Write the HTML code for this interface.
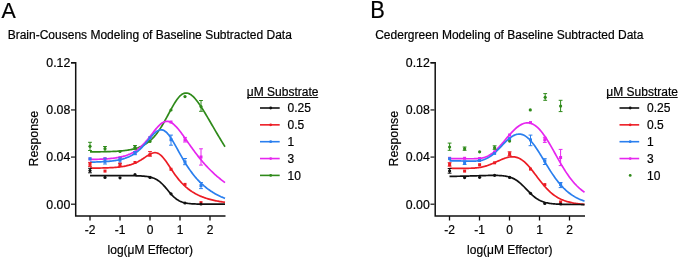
<!DOCTYPE html>
<html><head><meta charset="utf-8"><style>
html,body{margin:0;padding:0;background:#fff;}
svg{display:block;will-change:transform;}
text{font-family:"Liberation Sans",sans-serif;font-size:12px;fill:#000;stroke:#000;stroke-width:0.2px;}
</style></head><body>
<svg width="680" height="259" viewBox="0 0 680 259">
<rect width="680" height="259" fill="#fff"/>
<text transform="translate(1.6,17.9) scale(0.93,1)" style="font-size:23px">A</text>
<text x="7.7" y="39.0">Brain-Cousens Modeling of Baseline Subtracted Data</text>
<text transform="translate(370.2,17.9) scale(0.95,1)" style="font-size:23px">B</text>
<text x="375.2" y="39.0">Cedergreen Modeling of Baseline Subtracted Data</text>
<g>
<path d="M71,62.8 H75.7 V216 H225.5" stroke="#111" stroke-width="1.5" fill="none"/>
<path d="M71,62.80 H75" stroke="#111" stroke-width="1.2"/>
<text x="70.3" y="67.20" text-anchor="end" style="font-size:12.3px">0.12</text>
<path d="M71,109.94 H75" stroke="#111" stroke-width="1.2"/>
<text x="70.3" y="114.34" text-anchor="end" style="font-size:12.3px">0.08</text>
<path d="M71,157.07 H75" stroke="#111" stroke-width="1.2"/>
<text x="70.3" y="161.47" text-anchor="end" style="font-size:12.3px">0.04</text>
<path d="M71,204.20 H75" stroke="#111" stroke-width="1.2"/>
<text x="70.3" y="208.60" text-anchor="end" style="font-size:12.3px">0.00</text>
<path d="M90.00,216 V220.5" stroke="#111" stroke-width="1.3"/>
<text x="90.00" y="233.5" text-anchor="middle">-2</text>
<path d="M120.00,216 V220.5" stroke="#111" stroke-width="1.3"/>
<text x="120.00" y="233.5" text-anchor="middle">-1</text>
<path d="M150.00,216 V220.5" stroke="#111" stroke-width="1.3"/>
<text x="150.00" y="233.5" text-anchor="middle">0</text>
<path d="M180.00,216 V220.5" stroke="#111" stroke-width="1.3"/>
<text x="180.00" y="233.5" text-anchor="middle">1</text>
<path d="M210.00,216 V220.5" stroke="#111" stroke-width="1.3"/>
<text x="210.00" y="233.5" text-anchor="middle">2</text>
<text x="150.3" y="253.8" text-anchor="middle">log(μM Effector)</text>
<text transform="translate(38.1,138.7) rotate(-90)" text-anchor="middle" style="font-size:12.35px">Response</text>
<path d="M90.00,151.88 L91.00,151.87 L92.00,151.87 L93.00,151.86 L94.00,151.85 L95.00,151.84 L96.00,151.83 L97.00,151.82 L98.00,151.81 L99.00,151.80 L100.00,151.78 L101.00,151.77 L102.00,151.75 L103.00,151.74 L104.00,151.72 L105.00,151.69 L106.00,151.67 L107.00,151.65 L108.00,151.62 L109.00,151.59 L110.00,151.56 L111.00,151.52 L112.00,151.48 L113.00,151.44 L114.00,151.39 L115.00,151.34 L116.00,151.29 L117.00,151.23 L118.00,151.16 L119.00,151.09 L120.00,151.02 L121.00,150.93 L122.00,150.84 L123.00,150.74 L124.00,150.64 L125.00,150.52 L126.00,150.39 L127.00,150.25 L128.00,150.10 L129.00,149.94 L130.00,149.76 L131.00,149.57 L132.00,149.36 L133.00,149.13 L134.00,148.89 L135.00,148.62 L136.00,148.33 L137.00,148.02 L138.00,147.68 L139.00,147.31 L140.00,146.91 L141.00,146.48 L142.00,146.02 L143.00,145.52 L144.00,144.98 L145.00,144.39 L146.00,143.76 L147.00,143.09 L148.00,142.37 L149.00,141.59 L150.00,140.75 L151.00,139.86 L152.00,138.91 L153.00,137.90 L154.00,136.82 L155.00,135.67 L156.00,134.45 L157.00,133.17 L158.00,131.81 L159.00,130.39 L160.00,128.90 L161.00,127.34 L162.00,125.72 L163.00,124.04 L164.00,122.31 L165.00,120.53 L166.00,118.71 L167.00,116.86 L168.00,114.99 L169.00,113.12 L170.00,111.25 L171.00,109.40 L172.00,107.58 L173.00,105.81 L174.00,104.10 L175.00,102.47 L176.00,100.93 L177.00,99.50 L178.00,98.19 L179.00,97.01 L180.00,95.97 L181.00,95.07 L182.00,94.33 L183.00,93.75 L184.00,93.34 L185.00,93.08 L186.00,92.99 L187.00,93.05 L188.00,93.27 L189.00,93.63 L190.00,94.13 L191.00,94.77 L192.00,95.54 L193.00,96.42 L194.00,97.41 L195.00,98.50 L196.00,99.67 L197.00,100.94 L198.00,102.27 L199.00,103.67 L200.00,105.12 L201.00,106.63 L202.00,108.18 L203.00,109.77 L204.00,111.39 L205.00,113.04 L206.00,114.71 L207.00,116.39 L208.00,118.09 L209.00,119.80 L210.00,121.52 L211.00,123.23 L212.00,124.96 L213.00,126.67 L214.00,128.39 L215.00,130.10 L216.00,131.81 L217.00,133.51 L218.00,135.20 L219.00,136.87 L220.00,138.54 L221.00,140.20 L222.00,141.85 L223.00,143.48 L224.00,145.10 L225.00,146.70" stroke="#2f8a1a" stroke-width="1.7" fill="none"/>
<path d="M90.00,159.46 L91.00,159.44 L92.00,159.42 L93.00,159.40 L94.00,159.38 L95.00,159.35 L96.00,159.33 L97.00,159.30 L98.00,159.26 L99.00,159.23 L100.00,159.19 L101.00,159.15 L102.00,159.10 L103.00,159.05 L104.00,159.00 L105.00,158.94 L106.00,158.88 L107.00,158.81 L108.00,158.73 L109.00,158.65 L110.00,158.56 L111.00,158.47 L112.00,158.36 L113.00,158.25 L114.00,158.13 L115.00,157.99 L116.00,157.85 L117.00,157.69 L118.00,157.52 L119.00,157.34 L120.00,157.14 L121.00,156.92 L122.00,156.68 L123.00,156.43 L124.00,156.15 L125.00,155.86 L126.00,155.54 L127.00,155.19 L128.00,154.82 L129.00,154.41 L130.00,153.98 L131.00,153.51 L132.00,153.01 L133.00,152.47 L134.00,151.90 L135.00,151.28 L136.00,150.62 L137.00,149.92 L138.00,149.17 L139.00,148.37 L140.00,147.52 L141.00,146.63 L142.00,145.68 L143.00,144.69 L144.00,143.65 L145.00,142.56 L146.00,141.42 L147.00,140.25 L148.00,139.04 L149.00,137.80 L150.00,136.53 L151.00,135.24 L152.00,133.95 L153.00,132.65 L154.00,131.37 L155.00,130.11 L156.00,128.89 L157.00,127.72 L158.00,126.61 L159.00,125.58 L160.00,124.63 L161.00,123.79 L162.00,123.06 L163.00,122.45 L164.00,121.96 L165.00,121.62 L166.00,121.41 L167.00,121.34 L168.00,121.41 L169.00,121.63 L170.00,121.97 L171.00,122.45 L172.00,123.06 L173.00,123.77 L174.00,124.60 L175.00,125.53 L176.00,126.54 L177.00,127.63 L178.00,128.79 L179.00,130.02 L180.00,131.29 L181.00,132.61 L182.00,133.96 L183.00,135.34 L184.00,136.75 L185.00,138.16 L186.00,139.59 L187.00,141.02 L188.00,142.45 L189.00,143.87 L190.00,145.29 L191.00,146.70 L192.00,148.10 L193.00,149.48 L194.00,150.84 L195.00,152.19 L196.00,153.52 L197.00,154.82 L198.00,156.11 L199.00,157.37 L200.00,158.61 L201.00,159.83 L202.00,161.02 L203.00,162.19 L204.00,163.34 L205.00,164.47 L206.00,165.57 L207.00,166.65 L208.00,167.71 L209.00,168.75 L210.00,169.76 L211.00,170.75 L212.00,171.72 L213.00,172.68 L214.00,173.61 L215.00,174.52 L216.00,175.41 L217.00,176.28 L218.00,177.13 L219.00,177.96 L220.00,178.78 L221.00,179.58 L222.00,180.36 L223.00,181.12 L224.00,181.86 L225.00,182.59" stroke="#e626ef" stroke-width="1.7" fill="none"/>
<path d="M90.00,162.15 L91.00,162.13 L92.00,162.11 L93.00,162.09 L94.00,162.06 L95.00,162.03 L96.00,162.01 L97.00,161.97 L98.00,161.94 L99.00,161.90 L100.00,161.86 L101.00,161.81 L102.00,161.77 L103.00,161.71 L104.00,161.65 L105.00,161.59 L106.00,161.52 L107.00,161.45 L108.00,161.37 L109.00,161.28 L110.00,161.18 L111.00,161.08 L112.00,160.97 L113.00,160.84 L114.00,160.71 L115.00,160.57 L116.00,160.41 L117.00,160.24 L118.00,160.05 L119.00,159.85 L120.00,159.64 L121.00,159.40 L122.00,159.14 L123.00,158.87 L124.00,158.57 L125.00,158.25 L126.00,157.90 L127.00,157.52 L128.00,157.12 L129.00,156.68 L130.00,156.21 L131.00,155.70 L132.00,155.16 L133.00,154.58 L134.00,153.95 L135.00,153.29 L136.00,152.57 L137.00,151.82 L138.00,151.01 L139.00,150.16 L140.00,149.26 L141.00,148.31 L142.00,147.32 L143.00,146.28 L144.00,145.20 L145.00,144.08 L146.00,142.93 L147.00,141.76 L148.00,140.57 L149.00,139.37 L150.00,138.18 L151.00,137.01 L152.00,135.87 L153.00,134.78 L154.00,133.75 L155.00,132.81 L156.00,131.97 L157.00,131.24 L158.00,130.65 L159.00,130.21 L160.00,129.94 L161.00,129.83 L162.00,129.90 L163.00,130.16 L164.00,130.59 L165.00,131.21 L166.00,132.00 L167.00,132.96 L168.00,134.06 L169.00,135.31 L170.00,136.68 L171.00,138.16 L172.00,139.73 L173.00,141.38 L174.00,143.08 L175.00,144.84 L176.00,146.62 L177.00,148.43 L178.00,150.24 L179.00,152.06 L180.00,153.86 L181.00,155.64 L182.00,157.40 L183.00,159.13 L184.00,160.82 L185.00,162.48 L186.00,164.10 L187.00,165.67 L188.00,167.20 L189.00,168.69 L190.00,170.13 L191.00,171.53 L192.00,172.88 L193.00,174.18 L194.00,175.45 L195.00,176.67 L196.00,177.84 L197.00,178.98 L198.00,180.07 L199.00,181.13 L200.00,182.15 L201.00,183.13 L202.00,184.08 L203.00,184.99 L204.00,185.87 L205.00,186.71 L206.00,187.53 L207.00,188.31 L208.00,189.07 L209.00,189.80 L210.00,190.50 L211.00,191.18 L212.00,191.83 L213.00,192.45 L214.00,193.06 L215.00,193.64 L216.00,194.20 L217.00,194.74 L218.00,195.26 L219.00,195.76 L220.00,196.24 L221.00,196.71 L222.00,197.15 L223.00,197.58 L224.00,198.00 L225.00,198.40" stroke="#2a7fee" stroke-width="1.7" fill="none"/>
<path d="M90.00,168.15 L91.00,168.14 L92.00,168.14 L93.00,168.13 L94.00,168.12 L95.00,168.11 L96.00,168.09 L97.00,168.08 L98.00,168.07 L99.00,168.05 L100.00,168.03 L101.00,168.01 L102.00,167.99 L103.00,167.97 L104.00,167.94 L105.00,167.91 L106.00,167.88 L107.00,167.85 L108.00,167.81 L109.00,167.77 L110.00,167.72 L111.00,167.67 L112.00,167.61 L113.00,167.55 L114.00,167.48 L115.00,167.41 L116.00,167.32 L117.00,167.23 L118.00,167.13 L119.00,167.03 L120.00,166.91 L121.00,166.78 L122.00,166.63 L123.00,166.48 L124.00,166.31 L125.00,166.12 L126.00,165.92 L127.00,165.69 L128.00,165.45 L129.00,165.19 L130.00,164.90 L131.00,164.60 L132.00,164.26 L133.00,163.90 L134.00,163.51 L135.00,163.09 L136.00,162.64 L137.00,162.16 L138.00,161.65 L139.00,161.11 L140.00,160.53 L141.00,159.94 L142.00,159.31 L143.00,158.67 L144.00,158.01 L145.00,157.34 L146.00,156.66 L147.00,156.00 L148.00,155.36 L149.00,154.75 L150.00,154.19 L151.00,153.70 L152.00,153.29 L153.00,152.97 L154.00,152.77 L155.00,152.69 L156.00,152.76 L157.00,152.97 L158.00,153.34 L159.00,153.87 L160.00,154.56 L161.00,155.40 L162.00,156.37 L163.00,157.47 L164.00,158.68 L165.00,159.99 L166.00,161.37 L167.00,162.81 L168.00,164.29 L169.00,165.80 L170.00,167.31 L171.00,168.83 L172.00,170.32 L173.00,171.80 L174.00,173.24 L175.00,174.65 L176.00,176.02 L177.00,177.34 L178.00,178.61 L179.00,179.84 L180.00,181.01 L181.00,182.14 L182.00,183.22 L183.00,184.25 L184.00,185.24 L185.00,186.17 L186.00,187.07 L187.00,187.92 L188.00,188.74 L189.00,189.51 L190.00,190.25 L191.00,190.95 L192.00,191.62 L193.00,192.25 L194.00,192.86 L195.00,193.43 L196.00,193.98 L197.00,194.50 L198.00,195.00 L199.00,195.47 L200.00,195.92 L201.00,196.35 L202.00,196.76 L203.00,197.15 L204.00,197.52 L205.00,197.87 L206.00,198.21 L207.00,198.53 L208.00,198.83 L209.00,199.12 L210.00,199.40 L211.00,199.66 L212.00,199.91 L213.00,200.15 L214.00,200.38 L215.00,200.60 L216.00,200.81 L217.00,201.00 L218.00,201.19 L219.00,201.37 L220.00,201.54 L221.00,201.70 L222.00,201.86 L223.00,202.01 L224.00,202.15 L225.00,202.28" stroke="#ec1c24" stroke-width="1.7" fill="none"/>
<path d="M90.00,175.63 L91.00,175.63 L92.00,175.63 L93.00,175.63 L94.00,175.63 L95.00,175.63 L96.00,175.63 L97.00,175.63 L98.00,175.63 L99.00,175.63 L100.00,175.63 L101.00,175.63 L102.00,175.63 L103.00,175.63 L104.00,175.63 L105.00,175.63 L106.00,175.63 L107.00,175.63 L108.00,175.63 L109.00,175.63 L110.00,175.63 L111.00,175.63 L112.00,175.63 L113.00,175.63 L114.00,175.63 L115.00,175.64 L116.00,175.64 L117.00,175.64 L118.00,175.64 L119.00,175.64 L120.00,175.64 L121.00,175.64 L122.00,175.65 L123.00,175.65 L124.00,175.65 L125.00,175.65 L126.00,175.66 L127.00,175.66 L128.00,175.67 L129.00,175.68 L130.00,175.69 L131.00,175.70 L132.00,175.71 L133.00,175.72 L134.00,175.74 L135.00,175.76 L136.00,175.78 L137.00,175.81 L138.00,175.84 L139.00,175.87 L140.00,175.92 L141.00,175.97 L142.00,176.03 L143.00,176.10 L144.00,176.18 L145.00,176.28 L146.00,176.40 L147.00,176.53 L148.00,176.69 L149.00,176.87 L150.00,177.08 L151.00,177.33 L152.00,177.62 L153.00,177.95 L154.00,178.33 L155.00,178.76 L156.00,179.26 L157.00,179.82 L158.00,180.46 L159.00,181.16 L160.00,181.95 L161.00,182.81 L162.00,183.74 L163.00,184.75 L164.00,185.82 L165.00,186.94 L166.00,188.11 L167.00,189.30 L168.00,190.50 L169.00,191.70 L170.00,192.87 L171.00,194.00 L172.00,195.08 L173.00,196.10 L174.00,197.05 L175.00,197.93 L176.00,198.72 L177.00,199.44 L178.00,200.09 L179.00,200.66 L180.00,201.16 L181.00,201.60 L182.00,201.99 L183.00,202.32 L184.00,202.61 L185.00,202.85 L186.00,203.07 L187.00,203.24 L188.00,203.40 L189.00,203.53 L190.00,203.64 L191.00,203.73 L192.00,203.80 L193.00,203.87 L194.00,203.92 L195.00,203.97 L196.00,204.00 L197.00,204.03 L198.00,204.06 L199.00,204.08 L200.00,204.09 L201.00,204.10 L202.00,204.11 L203.00,204.12 L204.00,204.12 L205.00,204.13 L206.00,204.13 L207.00,204.13 L208.00,204.13 L209.00,204.13 L210.00,204.13 L211.00,204.12 L212.00,204.12 L213.00,204.12 L214.00,204.11 L215.00,204.11 L216.00,204.11 L217.00,204.10 L218.00,204.10 L219.00,204.10 L220.00,204.09 L221.00,204.09 L222.00,204.08 L223.00,204.08 L224.00,204.08 L225.00,204.07" stroke="#111111" stroke-width="1.7" fill="none"/>
<path d="M90.00,142.30 V150.50 M88.10,142.30 h3.8 M88.10,150.50 h3.8" stroke="#2f8a1a" stroke-width="1" fill="none"/>
<circle cx="90.00" cy="146.30" r="1.6" fill="#2f8a1a"/>
<path d="M105.00,146.50 V151.60 M103.10,146.50 h3.8 M103.10,151.60 h3.8" stroke="#2f8a1a" stroke-width="1" fill="none"/>
<circle cx="105.00" cy="148.70" r="1.6" fill="#2f8a1a"/>
<circle cx="120.00" cy="151.50" r="1.6" fill="#2f8a1a"/>
<path d="M135.00,145.50 V149.30 M133.10,145.50 h3.8 M133.10,149.30 h3.8" stroke="#2f8a1a" stroke-width="1" fill="none"/>
<circle cx="135.00" cy="147.30" r="1.6" fill="#2f8a1a"/>
<circle cx="150.00" cy="141.50" r="1.6" fill="#2f8a1a"/>
<circle cx="171.00" cy="110.00" r="1.6" fill="#2f8a1a"/>
<circle cx="185.00" cy="96.60" r="1.6" fill="#2f8a1a"/>
<path d="M201.00,100.50 V111.30 M199.10,100.50 h3.8 M199.10,111.30 h3.8" stroke="#2f8a1a" stroke-width="1" fill="none"/>
<circle cx="201.00" cy="106.60" r="1.6" fill="#2f8a1a"/>
<rect x="88.50" y="157.40" width="3" height="3" fill="#e626ef"/>
<rect x="103.50" y="157.10" width="3" height="3" fill="#e626ef"/>
<rect x="118.50" y="156.10" width="3" height="3" fill="#e626ef"/>
<rect x="133.50" y="150.90" width="3" height="3" fill="#e626ef"/>
<rect x="148.50" y="136.00" width="3" height="3" fill="#e626ef"/>
<rect x="169.50" y="120.50" width="3" height="3" fill="#e626ef"/>
<path d="M185.00,137.40 V142.00 M183.10,137.40 h3.8 M183.10,142.00 h3.8" stroke="#e626ef" stroke-width="1" fill="none"/>
<rect x="183.50" y="138.20" width="3" height="3" fill="#e626ef"/>
<path d="M201.00,148.80 V165.10 M199.10,148.80 h3.8 M199.10,165.10 h3.8" stroke="#e626ef" stroke-width="1" fill="none"/>
<rect x="199.50" y="155.50" width="3" height="3" fill="#e626ef"/>
<rect x="88.50" y="157.30" width="3" height="3" fill="#2a7fee"/>
<path d="M105.00,158.20 V164.00 M103.10,158.20 h3.8 M103.10,164.00 h3.8" stroke="#2a7fee" stroke-width="1" fill="none"/>
<rect x="103.50" y="159.80" width="3" height="3" fill="#2a7fee"/>
<path d="M120.00,157.80 V163.20 M118.10,157.80 h3.8 M118.10,163.20 h3.8" stroke="#2a7fee" stroke-width="1" fill="none"/>
<rect x="118.50" y="158.70" width="3" height="3" fill="#2a7fee"/>
<path d="M135.00,151.60 V154.70 M133.10,151.60 h3.8 M133.10,154.70 h3.8" stroke="#2a7fee" stroke-width="1" fill="none"/>
<rect x="133.50" y="151.60" width="3" height="3" fill="#2a7fee"/>
<rect x="148.50" y="136.30" width="3" height="3" fill="#2a7fee"/>
<path d="M171.00,135.10 V145.20 M169.10,135.10 h3.8 M169.10,145.20 h3.8" stroke="#2a7fee" stroke-width="1" fill="none"/>
<rect x="169.50" y="138.20" width="3" height="3" fill="#2a7fee"/>
<path d="M185.00,158.50 V164.70 M183.10,158.50 h3.8 M183.10,164.70 h3.8" stroke="#2a7fee" stroke-width="1" fill="none"/>
<rect x="183.50" y="160.50" width="3" height="3" fill="#2a7fee"/>
<path d="M201.00,182.50 V188.60 M199.10,182.50 h3.8 M199.10,188.60 h3.8" stroke="#2a7fee" stroke-width="1" fill="none"/>
<rect x="199.50" y="184.10" width="3" height="3" fill="#2a7fee"/>
<path d="M90.00,162.40 V166.40 M88.10,162.40 h3.8 M88.10,166.40 h3.8" stroke="#ec1c24" stroke-width="1" fill="none"/>
<rect x="88.50" y="162.80" width="3" height="3" fill="#ec1c24"/>
<rect x="103.50" y="169.60" width="3" height="3" fill="#ec1c24"/>
<path d="M120.00,163.20 V166.30 M118.10,163.20 h3.8 M118.10,166.30 h3.8" stroke="#ec1c24" stroke-width="1" fill="none"/>
<rect x="118.50" y="163.30" width="3" height="3" fill="#ec1c24"/>
<rect x="133.50" y="161.00" width="3" height="3" fill="#ec1c24"/>
<path d="M150.00,151.60 V156.20 M148.10,151.60 h3.8 M148.10,156.20 h3.8" stroke="#ec1c24" stroke-width="1" fill="none"/>
<rect x="148.50" y="153.20" width="3" height="3" fill="#ec1c24"/>
<rect x="169.50" y="167.80" width="3" height="3" fill="#ec1c24"/>
<rect x="183.50" y="182.90" width="3" height="3" fill="#ec1c24"/>
<rect x="199.50" y="201.10" width="3" height="3" fill="#ec1c24"/>
<path d="M90.00,168.30 V172.80 M88.10,168.30 h3.8 M88.10,172.80 h3.8" stroke="#111111" stroke-width="1" fill="none"/>
<circle cx="90.00" cy="170.60" r="1.6" fill="#111111"/>
<circle cx="105.00" cy="177.40" r="1.6" fill="#111111"/>
<circle cx="120.00" cy="177.80" r="1.6" fill="#111111"/>
<circle cx="135.00" cy="174.50" r="1.6" fill="#111111"/>
<circle cx="150.00" cy="177.40" r="1.6" fill="#111111"/>
<circle cx="171.00" cy="193.80" r="1.6" fill="#111111"/>
<circle cx="185.00" cy="203.00" r="1.6" fill="#111111"/>
<circle cx="201.00" cy="204.00" r="1.6" fill="#111111"/>
<text x="246.8" y="95.9">μM Substrate</text>
<path d="M247.3,97.5 H318.2" stroke="#111" stroke-width="1"/>
<path d="M260,108.00 H279.7" stroke="#111111" stroke-width="1.6"/>
<circle cx="270.7" cy="108.00" r="1.4" fill="#111111"/>
<text x="287.6" y="112.20">0.25</text>
<path d="M260,124.85 H279.7" stroke="#ec1c24" stroke-width="1.6"/>
<circle cx="270.7" cy="124.85" r="1.4" fill="#ec1c24"/>
<text x="287.6" y="129.05">0.5</text>
<path d="M260,141.70 H279.7" stroke="#2a7fee" stroke-width="1.6"/>
<circle cx="270.7" cy="141.70" r="1.4" fill="#2a7fee"/>
<text x="287.6" y="145.90">1</text>
<path d="M260,158.55 H279.7" stroke="#e626ef" stroke-width="1.6"/>
<circle cx="270.7" cy="158.55" r="1.4" fill="#e626ef"/>
<text x="287.6" y="162.75">3</text>
<path d="M260,175.40 H279.7" stroke="#2f8a1a" stroke-width="1.6"/>
<circle cx="270.7" cy="175.40" r="1.4" fill="#2f8a1a"/>
<text x="287.6" y="179.60">10</text>
</g>
<g transform="translate(359.5,0)">
<path d="M71,62.8 H75.7 V216 H225.5" stroke="#111" stroke-width="1.5" fill="none"/>
<path d="M71,62.80 H75" stroke="#111" stroke-width="1.2"/>
<text x="70.3" y="67.20" text-anchor="end" style="font-size:12.3px">0.12</text>
<path d="M71,109.94 H75" stroke="#111" stroke-width="1.2"/>
<text x="70.3" y="114.34" text-anchor="end" style="font-size:12.3px">0.08</text>
<path d="M71,157.07 H75" stroke="#111" stroke-width="1.2"/>
<text x="70.3" y="161.47" text-anchor="end" style="font-size:12.3px">0.04</text>
<path d="M71,204.20 H75" stroke="#111" stroke-width="1.2"/>
<text x="70.3" y="208.60" text-anchor="end" style="font-size:12.3px">0.00</text>
<path d="M90.00,216 V220.5" stroke="#111" stroke-width="1.3"/>
<text x="90.00" y="233.5" text-anchor="middle">-2</text>
<path d="M120.00,216 V220.5" stroke="#111" stroke-width="1.3"/>
<text x="120.00" y="233.5" text-anchor="middle">-1</text>
<path d="M150.00,216 V220.5" stroke="#111" stroke-width="1.3"/>
<text x="150.00" y="233.5" text-anchor="middle">0</text>
<path d="M180.00,216 V220.5" stroke="#111" stroke-width="1.3"/>
<text x="180.00" y="233.5" text-anchor="middle">1</text>
<path d="M210.00,216 V220.5" stroke="#111" stroke-width="1.3"/>
<text x="210.00" y="233.5" text-anchor="middle">2</text>
<text x="150.3" y="253.8" text-anchor="middle">log(μM Effector)</text>
<text transform="translate(38.1,138.7) rotate(-90)" text-anchor="middle" style="font-size:12.35px">Response</text>
<path d="M90.00,158.66 L91.00,158.67 L92.00,158.67 L93.00,158.67 L94.00,158.68 L95.00,158.68 L96.00,158.68 L97.00,158.69 L98.00,158.69 L99.00,158.69 L100.00,158.70 L101.00,158.70 L102.00,158.71 L103.00,158.72 L104.00,158.72 L105.00,158.73 L106.00,158.73 L107.00,158.74 L108.00,158.75 L109.00,158.75 L110.00,158.75 L111.00,158.75 L112.00,158.75 L113.00,158.74 L114.00,158.73 L115.00,158.71 L116.00,158.67 L117.00,158.62 L118.00,158.56 L119.00,158.47 L120.00,158.37 L121.00,158.23 L122.00,158.06 L123.00,157.85 L124.00,157.61 L125.00,157.32 L126.00,156.98 L127.00,156.60 L128.00,156.16 L129.00,155.66 L130.00,155.10 L131.00,154.49 L132.00,153.82 L133.00,153.09 L134.00,152.30 L135.00,151.46 L136.00,150.56 L137.00,149.61 L138.00,148.62 L139.00,147.58 L140.00,146.51 L141.00,145.40 L142.00,144.26 L143.00,143.10 L144.00,141.93 L145.00,140.74 L146.00,139.55 L147.00,138.36 L148.00,137.17 L149.00,136.00 L150.00,134.85 L151.00,133.72 L152.00,132.63 L153.00,131.57 L154.00,130.54 L155.00,129.57 L156.00,128.64 L157.00,127.77 L158.00,126.96 L159.00,126.21 L160.00,125.53 L161.00,124.92 L162.00,124.38 L163.00,123.92 L164.00,123.54 L165.00,123.24 L166.00,123.02 L167.00,122.89 L168.00,122.85 L169.00,122.90 L170.00,123.03 L171.00,123.26 L172.00,123.59 L173.00,124.00 L174.00,124.51 L175.00,125.11 L176.00,125.80 L177.00,126.58 L178.00,127.45 L179.00,128.40 L180.00,129.44 L181.00,130.57 L182.00,131.77 L183.00,133.05 L184.00,134.39 L185.00,135.81 L186.00,137.28 L187.00,138.82 L188.00,140.40 L189.00,142.04 L190.00,143.71 L191.00,145.42 L192.00,147.16 L193.00,148.92 L194.00,150.69 L195.00,152.48 L196.00,154.28 L197.00,156.07 L198.00,157.85 L199.00,159.63 L200.00,161.39 L201.00,163.12 L202.00,164.83 L203.00,166.51 L204.00,168.16 L205.00,169.77 L206.00,171.34 L207.00,172.86 L208.00,174.34 L209.00,175.78 L210.00,177.17 L211.00,178.51 L212.00,179.80 L213.00,181.04 L214.00,182.23 L215.00,183.37 L216.00,184.46 L217.00,185.50 L218.00,186.49 L219.00,187.44 L220.00,188.34 L221.00,189.19 L222.00,190.01 L223.00,190.78 L224.00,191.51 L225.00,192.20" stroke="#e626ef" stroke-width="1.7" fill="none"/>
<path d="M90.00,160.82 L91.00,160.83 L92.00,160.84 L93.00,160.85 L94.00,160.86 L95.00,160.87 L96.00,160.88 L97.00,160.90 L98.00,160.91 L99.00,160.93 L100.00,160.94 L101.00,160.96 L102.00,160.98 L103.00,161.00 L104.00,161.02 L105.00,161.04 L106.00,161.06 L107.00,161.08 L108.00,161.10 L109.00,161.12 L110.00,161.14 L111.00,161.15 L112.00,161.16 L113.00,161.16 L114.00,161.15 L115.00,161.12 L116.00,161.08 L117.00,161.02 L118.00,160.94 L119.00,160.84 L120.00,160.70 L121.00,160.53 L122.00,160.32 L123.00,160.07 L124.00,159.77 L125.00,159.42 L126.00,159.03 L127.00,158.58 L128.00,158.07 L129.00,157.51 L130.00,156.90 L131.00,156.23 L132.00,155.50 L133.00,154.72 L134.00,153.89 L135.00,153.02 L136.00,152.11 L137.00,151.15 L138.00,150.17 L139.00,149.16 L140.00,148.13 L141.00,147.09 L142.00,146.04 L143.00,144.99 L144.00,143.95 L145.00,142.93 L146.00,141.93 L147.00,140.96 L148.00,140.03 L149.00,139.14 L150.00,138.31 L151.00,137.53 L152.00,136.82 L153.00,136.18 L154.00,135.62 L155.00,135.14 L156.00,134.74 L157.00,134.44 L158.00,134.22 L159.00,134.11 L160.00,134.09 L161.00,134.18 L162.00,134.36 L163.00,134.65 L164.00,135.04 L165.00,135.54 L166.00,136.13 L167.00,136.83 L168.00,137.62 L169.00,138.51 L170.00,139.48 L171.00,140.54 L172.00,141.69 L173.00,142.91 L174.00,144.20 L175.00,145.55 L176.00,146.97 L177.00,148.44 L178.00,149.96 L179.00,151.51 L180.00,153.10 L181.00,154.72 L182.00,156.36 L183.00,158.02 L184.00,159.68 L185.00,161.34 L186.00,163.00 L187.00,164.66 L188.00,166.30 L189.00,167.92 L190.00,169.51 L191.00,171.09 L192.00,172.63 L193.00,174.13 L194.00,175.60 L195.00,177.04 L196.00,178.43 L197.00,179.78 L198.00,181.09 L199.00,182.35 L200.00,183.56 L201.00,184.74 L202.00,185.86 L203.00,186.94 L204.00,187.98 L205.00,188.97 L206.00,189.92 L207.00,190.82 L208.00,191.68 L209.00,192.50 L210.00,193.28 L211.00,194.03 L212.00,194.73 L213.00,195.40 L214.00,196.03 L215.00,196.63 L216.00,197.20 L217.00,197.74 L218.00,198.24 L219.00,198.72 L220.00,199.18 L221.00,199.60 L222.00,200.00 L223.00,200.38 L224.00,200.74 L225.00,201.08" stroke="#2a7fee" stroke-width="1.7" fill="none"/>
<path d="M90.00,168.27 L91.00,168.27 L92.00,168.27 L93.00,168.28 L94.00,168.28 L95.00,168.28 L96.00,168.29 L97.00,168.29 L98.00,168.30 L99.00,168.30 L100.00,168.30 L101.00,168.31 L102.00,168.31 L103.00,168.31 L104.00,168.31 L105.00,168.31 L106.00,168.31 L107.00,168.30 L108.00,168.29 L109.00,168.28 L110.00,168.26 L111.00,168.23 L112.00,168.20 L113.00,168.15 L114.00,168.10 L115.00,168.03 L116.00,167.95 L117.00,167.85 L118.00,167.74 L119.00,167.61 L120.00,167.46 L121.00,167.30 L122.00,167.11 L123.00,166.90 L124.00,166.66 L125.00,166.41 L126.00,166.13 L127.00,165.83 L128.00,165.51 L129.00,165.16 L130.00,164.80 L131.00,164.41 L132.00,164.01 L133.00,163.59 L134.00,163.16 L135.00,162.72 L136.00,162.27 L137.00,161.81 L138.00,161.35 L139.00,160.89 L140.00,160.44 L141.00,159.99 L142.00,159.55 L143.00,159.13 L144.00,158.73 L145.00,158.36 L146.00,158.01 L147.00,157.70 L148.00,157.43 L149.00,157.19 L150.00,157.00 L151.00,156.87 L152.00,156.78 L153.00,156.76 L154.00,156.80 L155.00,156.90 L156.00,157.07 L157.00,157.32 L158.00,157.63 L159.00,158.02 L160.00,158.49 L161.00,159.04 L162.00,159.66 L163.00,160.35 L164.00,161.13 L165.00,161.97 L166.00,162.88 L167.00,163.86 L168.00,164.90 L169.00,166.00 L170.00,167.15 L171.00,168.34 L172.00,169.57 L173.00,170.84 L174.00,172.13 L175.00,173.44 L176.00,174.76 L177.00,176.09 L178.00,177.41 L179.00,178.73 L180.00,180.03 L181.00,181.32 L182.00,182.58 L183.00,183.81 L184.00,185.01 L185.00,186.18 L186.00,187.30 L187.00,188.39 L188.00,189.43 L189.00,190.43 L190.00,191.38 L191.00,192.29 L192.00,193.15 L193.00,193.97 L194.00,194.74 L195.00,195.47 L196.00,196.16 L197.00,196.80 L198.00,197.41 L199.00,197.98 L200.00,198.51 L201.00,199.01 L202.00,199.47 L203.00,199.90 L204.00,200.31 L205.00,200.68 L206.00,201.03 L207.00,201.36 L208.00,201.66 L209.00,201.93 L210.00,202.19 L211.00,202.43 L212.00,202.65 L213.00,202.86 L214.00,203.04 L215.00,203.22 L216.00,203.38 L217.00,203.53 L218.00,203.67 L219.00,203.79 L220.00,203.91 L221.00,204.02 L222.00,204.11 L223.00,204.21 L224.00,204.29 L225.00,204.37" stroke="#ec1c24" stroke-width="1.7" fill="none"/>
<path d="M90.00,176.40 L91.00,176.38 L92.00,176.37 L93.00,176.36 L94.00,176.34 L95.00,176.33 L96.00,176.31 L97.00,176.29 L98.00,176.27 L99.00,176.26 L100.00,176.24 L101.00,176.22 L102.00,176.20 L103.00,176.17 L104.00,176.15 L105.00,176.13 L106.00,176.10 L107.00,176.08 L108.00,176.05 L109.00,176.03 L110.00,176.00 L111.00,175.97 L112.00,175.94 L113.00,175.92 L114.00,175.89 L115.00,175.86 L116.00,175.83 L117.00,175.80 L118.00,175.77 L119.00,175.74 L120.00,175.70 L121.00,175.67 L122.00,175.64 L123.00,175.61 L124.00,175.59 L125.00,175.56 L126.00,175.53 L127.00,175.50 L128.00,175.48 L129.00,175.46 L130.00,175.44 L131.00,175.42 L132.00,175.41 L133.00,175.40 L134.00,175.40 L135.00,175.40 L136.00,175.41 L137.00,175.42 L138.00,175.45 L139.00,175.48 L140.00,175.53 L141.00,175.59 L142.00,175.66 L143.00,175.75 L144.00,175.86 L145.00,175.99 L146.00,176.14 L147.00,176.32 L148.00,176.53 L149.00,176.77 L150.00,177.05 L151.00,177.37 L152.00,177.74 L153.00,178.15 L154.00,178.61 L155.00,179.12 L156.00,179.69 L157.00,180.32 L158.00,181.00 L159.00,181.75 L160.00,182.55 L161.00,183.40 L162.00,184.31 L163.00,185.26 L164.00,186.25 L165.00,187.26 L166.00,188.30 L167.00,189.35 L168.00,190.40 L169.00,191.44 L170.00,192.46 L171.00,193.45 L172.00,194.40 L173.00,195.31 L174.00,196.17 L175.00,196.98 L176.00,197.74 L177.00,198.44 L178.00,199.09 L179.00,199.68 L180.00,200.21 L181.00,200.70 L182.00,201.14 L183.00,201.53 L184.00,201.89 L185.00,202.20 L186.00,202.48 L187.00,202.73 L188.00,202.95 L189.00,203.15 L190.00,203.32 L191.00,203.47 L192.00,203.60 L193.00,203.72 L194.00,203.82 L195.00,203.91 L196.00,203.99 L197.00,204.06 L198.00,204.12 L199.00,204.18 L200.00,204.22 L201.00,204.26 L202.00,204.30 L203.00,204.33 L204.00,204.36 L205.00,204.38 L206.00,204.40 L207.00,204.42 L208.00,204.43 L209.00,204.45 L210.00,204.46 L211.00,204.47 L212.00,204.48 L213.00,204.49 L214.00,204.49 L215.00,204.50 L216.00,204.51 L217.00,204.51 L218.00,204.51 L219.00,204.52 L220.00,204.52 L221.00,204.52 L222.00,204.53 L223.00,204.53 L224.00,204.53 L225.00,204.53" stroke="#111111" stroke-width="1.7" fill="none"/>
<path d="M90.10,143.10 V150.30 M88.20,143.10 h3.8 M88.20,150.30 h3.8" stroke="#2f8a1a" stroke-width="1" fill="none"/>
<circle cx="90.10" cy="147.00" r="1.6" fill="#2f8a1a"/>
<path d="M105.10,147.00 V150.30 M103.20,147.00 h3.8 M103.20,150.30 h3.8" stroke="#2f8a1a" stroke-width="1" fill="none"/>
<circle cx="105.10" cy="148.70" r="1.6" fill="#2f8a1a"/>
<circle cx="120.10" cy="151.80" r="1.6" fill="#2f8a1a"/>
<path d="M135.10,145.80 V149.30 M133.20,145.80 h3.8 M133.20,149.30 h3.8" stroke="#2f8a1a" stroke-width="1" fill="none"/>
<circle cx="135.10" cy="147.70" r="1.6" fill="#2f8a1a"/>
<circle cx="150.10" cy="141.10" r="1.6" fill="#2f8a1a"/>
<circle cx="170.80" cy="109.90" r="1.6" fill="#2f8a1a"/>
<path d="M185.70,93.60 V100.30 M183.80,93.60 h3.8 M183.80,100.30 h3.8" stroke="#2f8a1a" stroke-width="1" fill="none"/>
<circle cx="185.70" cy="97.30" r="1.6" fill="#2f8a1a"/>
<path d="M201.10,100.30 V111.60 M199.20,100.30 h3.8 M199.20,111.60 h3.8" stroke="#2f8a1a" stroke-width="1" fill="none"/>
<circle cx="201.10" cy="106.10" r="1.6" fill="#2f8a1a"/>
<rect x="88.60" y="156.80" width="3" height="3" fill="#e626ef"/>
<rect x="103.60" y="156.80" width="3" height="3" fill="#e626ef"/>
<rect x="118.60" y="157.00" width="3" height="3" fill="#e626ef"/>
<rect x="133.60" y="150.50" width="3" height="3" fill="#e626ef"/>
<rect x="148.60" y="133.50" width="3" height="3" fill="#e626ef"/>
<rect x="169.50" y="121.10" width="3" height="3" fill="#e626ef"/>
<path d="M185.30,137.30 V142.40 M183.40,137.30 h3.8 M183.40,142.40 h3.8" stroke="#e626ef" stroke-width="1" fill="none"/>
<rect x="183.80" y="138.20" width="3" height="3" fill="#e626ef"/>
<path d="M201.10,149.40 V165.60 M199.20,149.40 h3.8 M199.20,165.60 h3.8" stroke="#e626ef" stroke-width="1" fill="none"/>
<rect x="199.60" y="156.00" width="3" height="3" fill="#e626ef"/>
<rect x="88.60" y="157.20" width="3" height="3" fill="#2a7fee"/>
<path d="M105.10,161.00 V164.50 M103.20,161.00 h3.8 M103.20,164.50 h3.8" stroke="#2a7fee" stroke-width="1" fill="none"/>
<rect x="103.60" y="161.20" width="3" height="3" fill="#2a7fee"/>
<rect x="118.60" y="159.00" width="3" height="3" fill="#2a7fee"/>
<rect x="133.60" y="151.90" width="3" height="3" fill="#2a7fee"/>
<rect x="148.60" y="137.10" width="3" height="3" fill="#2a7fee"/>
<path d="M171.00,135.10 V145.70 M169.10,135.10 h3.8 M169.10,145.70 h3.8" stroke="#2a7fee" stroke-width="1" fill="none"/>
<rect x="169.50" y="138.40" width="3" height="3" fill="#2a7fee"/>
<path d="M185.30,158.70 V164.50 M183.40,158.70 h3.8 M183.40,164.50 h3.8" stroke="#2a7fee" stroke-width="1" fill="none"/>
<rect x="183.80" y="159.50" width="3" height="3" fill="#2a7fee"/>
<path d="M201.10,182.50 V187.60 M199.20,182.50 h3.8 M199.20,187.60 h3.8" stroke="#2a7fee" stroke-width="1" fill="none"/>
<rect x="199.60" y="183.10" width="3" height="3" fill="#2a7fee"/>
<path d="M90.10,162.70 V166.20 M88.20,162.70 h3.8 M88.20,166.20 h3.8" stroke="#ec1c24" stroke-width="1" fill="none"/>
<rect x="88.60" y="163.00" width="3" height="3" fill="#ec1c24"/>
<rect x="103.60" y="169.60" width="3" height="3" fill="#ec1c24"/>
<rect x="118.60" y="163.20" width="3" height="3" fill="#ec1c24"/>
<rect x="133.60" y="161.30" width="3" height="3" fill="#ec1c24"/>
<path d="M150.10,151.80 V155.60 M148.20,151.80 h3.8 M148.20,155.60 h3.8" stroke="#ec1c24" stroke-width="1" fill="none"/>
<rect x="148.60" y="152.20" width="3" height="3" fill="#ec1c24"/>
<rect x="169.50" y="167.60" width="3" height="3" fill="#ec1c24"/>
<rect x="183.80" y="183.10" width="3" height="3" fill="#ec1c24"/>
<rect x="199.60" y="200.50" width="3" height="3" fill="#ec1c24"/>
<path d="M90.10,168.50 V173.20 M88.20,168.50 h3.8 M88.20,173.20 h3.8" stroke="#111111" stroke-width="1" fill="none"/>
<circle cx="90.10" cy="170.90" r="1.6" fill="#111111"/>
<circle cx="105.10" cy="177.60" r="1.6" fill="#111111"/>
<circle cx="120.10" cy="177.30" r="1.6" fill="#111111"/>
<circle cx="135.10" cy="175.30" r="1.6" fill="#111111"/>
<circle cx="150.10" cy="177.40" r="1.6" fill="#111111"/>
<circle cx="171.00" cy="193.30" r="1.6" fill="#111111"/>
<circle cx="185.30" cy="203.40" r="1.6" fill="#111111"/>
<circle cx="201.10" cy="204.00" r="1.6" fill="#111111"/>
<text x="246.8" y="95.9">μM Substrate</text>
<path d="M247.3,97.5 H318.2" stroke="#111" stroke-width="1"/>
<path d="M260,108.00 H279.7" stroke="#111111" stroke-width="1.6"/>
<circle cx="270.7" cy="108.00" r="1.4" fill="#111111"/>
<text x="287.6" y="112.20">0.25</text>
<path d="M260,124.85 H279.7" stroke="#ec1c24" stroke-width="1.6"/>
<circle cx="270.7" cy="124.85" r="1.4" fill="#ec1c24"/>
<text x="287.6" y="129.05">0.5</text>
<path d="M260,141.70 H279.7" stroke="#2a7fee" stroke-width="1.6"/>
<circle cx="270.7" cy="141.70" r="1.4" fill="#2a7fee"/>
<text x="287.6" y="145.90">1</text>
<path d="M260,158.55 H279.7" stroke="#e626ef" stroke-width="1.6"/>
<circle cx="270.7" cy="158.55" r="1.4" fill="#e626ef"/>
<text x="287.6" y="162.75">3</text>
<circle cx="270.7" cy="175.40" r="1.4" fill="#2f8a1a"/>
<text x="287.6" y="179.60">10</text>
</g>
</svg>
</body></html>
